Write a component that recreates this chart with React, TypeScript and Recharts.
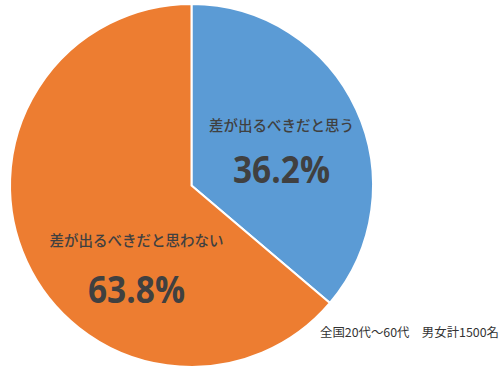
import React from 'react';
import { PieChart, Pie, Cell } from 'recharts';

const categories = ['差が出るべきだと思う', '差が出るべきだと思わない'];
const values = [36.2, 63.8];
const colors = ['#5B9BD5', '#ED7D31'];
const footnote = '全国20代～60代　男女計1500名';

const data = categories.map((name, i) => ({ name, value: values[i] }));

// label anchor offsets (relative to pie centre), separate from data
const labelOffsets = [
  { dx: 90, nameDy: -55, valDy: -3 },
  { dx: -55, nameDy: 60, valDy: 117 },
];

const CX = 191.5;
const CY = 185.5;

const renderLabel = (props: any) => {
  const { index, cx, cy, name, value } = props;
  const o = labelOffsets[index];
  return (
    <g key={`lbl-${index}`}>
      <text
        x={cx + o.dx}
        y={cy + o.nameDy}
        textAnchor="middle"
        fill="#404040"
        fontSize={14.5}
        fontFamily="'Noto Sans CJK JP', sans-serif"
        fontWeight={500}
      >
        {name}
      </text>
      <text
        x={cx + o.dx}
        y={cy + o.valDy}
        textAnchor="middle"
        fill="#404040"
        fontSize={37}
        fontFamily="'Open Sans', 'Noto Sans', sans-serif"
        fontWeight={700}
        textLength={97}
        lengthAdjust="spacingAndGlyphs"
      >
        {`${value.toFixed(1)}%`}
      </text>
    </g>
  );
};

export default function App() {
  return (
    <div style={{ position: 'absolute', left: 0, top: 0, width: 500, height: 374, background: '#fff' }}>
      <PieChart width={500} height={374} margin={{ top: 0, right: 0, bottom: 0, left: 0 }}>
        <Pie
          data={data}
          dataKey="value"
          nameKey="name"
          cx={CX}
          cy={CY}
          outerRadius={181.5}
          startAngle={90}
          endAngle={-270}
          stroke="#ffffff"
          strokeWidth={2}
          label={renderLabel}
          labelLine={false}
          isAnimationActive={false}
        >
          {data.map((d, i) => (
            <Cell key={d.name} fill={colors[i]} />
          ))}
        </Pie>
        <text
          x={320}
          y={337}
          fill="#333333"
          fontSize={12.4}
          fontFamily="'Noto Sans CJK JP', sans-serif"
        >
          {footnote}
        </text>
      </PieChart>
    </div>
  );
}
